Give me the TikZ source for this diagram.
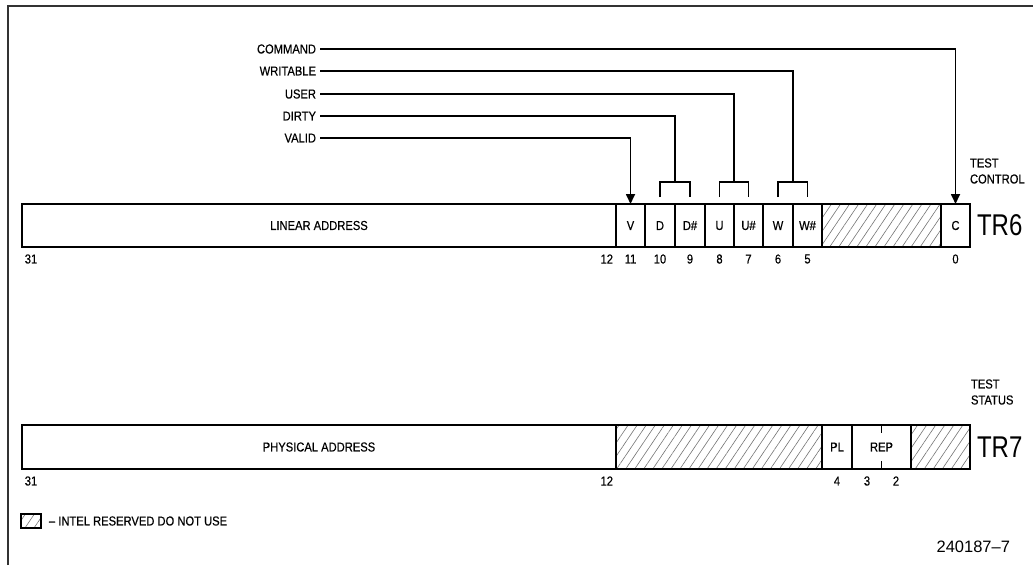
\documentclass[tikz,border=0pt]{standalone}
\usepackage{fontspec}
\setmainfont{Liberation Sans}
\newfontfamily\labfont[FakeStretch=0.86,FakeBold=0.4]{Liberation Sans}
\newfontfamily\bigfont[FakeStretch=0.8]{Liberation Sans}
\usetikzlibrary{arrows.meta,patterns.meta,calc}
\begin{document}
\begin{tikzpicture}[x=1pt,y=-1pt,
  every node/.style={inner sep=0pt, outer sep=0pt},
  lab/.style={font=\labfont\fontsize{13}{16}\selectfont},
  cell/.style={draw, line width=2pt, minimum height=43pt, anchor=north west, lab},
  hatch/.style={pattern={Lines[angle=56,distance=7.5pt,line width=0.6pt]}, pattern color=black!55},
  conn/.style={line width=1.7pt},
  arr/.style={conn,-{Triangle[length=10pt,width=9pt]}},
  num/.style={lab},
  frame/.style={line width=1.3pt, black!80},
  big/.style={font=\bigfont\fontsize{30}{32}\selectfont, anchor=west},
]
\useasboundingbox (0,0) rectangle (1033,565);
\draw[frame] (8,565) -- (8,6) -- (1033,6);

% TR6
\node[cell, minimum width=594pt] (la) at (22,204) {LINEAR ADDRESS};
\node[cell, minimum width=29pt] (v) at (la.north east) {V};
\node[cell, minimum width=30pt] (d) at (v.north east) {D};
\node[cell, minimum width=30pt] (dn) at (d.north east) {D\#};
\node[cell, minimum width=29pt] (u) at (dn.north east) {U};
\node[cell, minimum width=29pt] (un) at (u.north east) {U\#};
\node[cell, minimum width=30pt] (w) at (un.north east) {W};
\node[cell, minimum width=29pt] (wn) at (w.north east) {W\#};
\node[cell, hatch, minimum width=119pt] (r6) at (wn.north east) {};
\node[cell, minimum width=29pt] (c) at (r6.north east) {C};
\node[big] (tr6) at ([xshift=7pt]c.east) {TR6};
\node[lab, anchor=west, align=left] (tc) at (970,171) {TEST\\CONTROL};

% bit numbers TR6
\node[num] (a31) at ([xshift=9pt,yshift=-12pt]la.south west) {31};
\node[num, anchor=east] (a12) at ([xshift=-3pt,yshift=-12pt]la.south east) {12};
\node[num] (a11) at ([yshift=-12pt]v.south) {11};
\node[num] (a10) at ([yshift=-12pt]d.south) {10};
\node[num] (a9) at ([yshift=-12pt]dn.south) {9};
\node[num] (a8) at ([yshift=-12pt]u.south) {8};
\node[num] (a7) at ([yshift=-12pt]un.south) {7};
\node[num] (a6) at ([yshift=-12pt]w.south) {6};
\node[num] (a5) at ([yshift=-12pt]wn.south) {5};
\node[num] (a0) at ([yshift=-12pt]c.south) {0};

% labels and connectors
\node[lab, anchor=east] (lcmd) at (316,49) {COMMAND};
\node[lab, anchor=east] (lwr) at (316,71) {WRITABLE};
\node[lab, anchor=east] (lus) at (316,94) {USER};
\node[lab, anchor=east] (ldi) at (316,116) {DIRTY};
\node[lab, anchor=east] (lva) at (316,138) {VALID};

\coordinate (dtop) at ([yshift=22pt]d.north east);
\coordinate (utop) at ([yshift=22pt]u.north east);
\coordinate (wtop) at ([yshift=22pt]w.north east);

\draw[arr] ([xshift=4pt]lcmd.east) -| (c.north);
\draw[conn] ([xshift=4pt]lwr.east) -| (wtop);
\draw[conn] ([xshift=4pt]lus.east) -| (utop);
\draw[conn] ([xshift=4pt]ldi.east) -| (dtop);
\draw[arr] ([xshift=4pt]lva.east) -| (v.north);

\draw[conn] ([yshift=7pt]d.north) |- (dtop) -| ([yshift=7pt]dn.north);
\draw[conn] ([yshift=7pt]u.north) |- (utop) -| ([yshift=7pt]un.north);
\draw[conn] ([yshift=7pt]w.north) |- (wtop) -| ([yshift=7pt]wn.north);

% TR7
\node[cell, minimum height=44pt, minimum width=594pt] (pa) at (22,425) {PHYSICAL ADDRESS};
\node[cell, hatch, minimum height=44pt, minimum width=206pt] (r7a) at (pa.north east) {};
\node[cell, minimum height=44pt, minimum width=30pt] (pl) at (r7a.north east) {PL};
\node[cell, minimum height=44pt, minimum width=59pt] (rep) at (pl.north east) {REP};
\node[cell, hatch, minimum height=44pt, minimum width=59pt] (r7b) at (rep.north east) {};
\draw[conn] (rep.north) -- ++(0,8);
\draw[conn] (rep.south) -- ++(0,-8);
\node[big] (tr7) at ([xshift=7pt]r7b.east) {TR7};
\node[lab, anchor=west, align=left] (ts) at (971,392) {TEST\\STATUS};

\node[num] (b31) at ([xshift=9pt,yshift=-12pt]pa.south west) {31};
\node[num, anchor=east] (b12) at ([xshift=-3pt,yshift=-12pt]pa.south east) {12};
\node[num] (b4) at ([yshift=-12pt]pl.south) {4};
\node[num] (b3) at ([xshift=-14.5pt,yshift=-12pt]rep.south) {3};
\node[num] (b2) at ([xshift=14.5pt,yshift=-12pt]rep.south) {2};

% legend
\node[draw, line width=1.6pt, hatch, minimum width=20pt, minimum height=14pt, anchor=north west] (leg) at (21,514) {};
\node[lab, anchor=west] (legtxt) at ([xshift=8pt]leg.east) {– INTEL RESERVED DO NOT USE};

\node[font=\fontsize{16.5}{18}\selectfont, anchor=east] (fig) at (1010,547) {240187–7};
\end{tikzpicture}
\end{document}
